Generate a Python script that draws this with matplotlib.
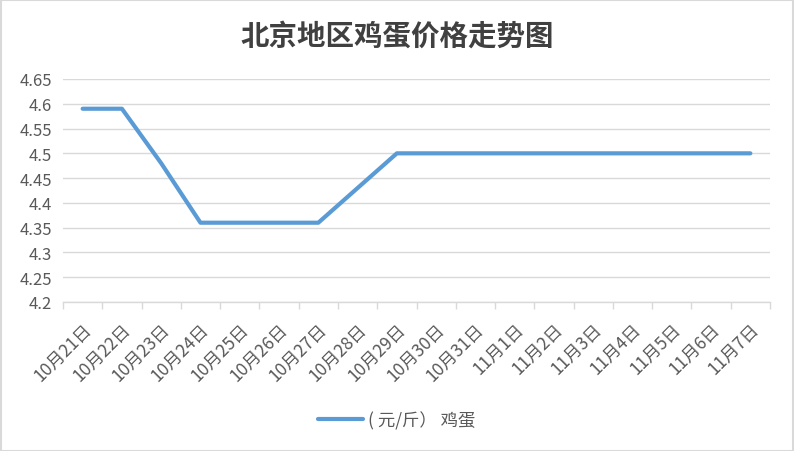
import numpy as np
import matplotlib.pyplot as plt
import matplotlib.transforms as mtransforms
from matplotlib.patches import Rectangle
from matplotlib.ticker import FixedLocator

plt.rcParams['font.family'] = ['Noto Sans CJK SC', 'DejaVu Sans']

dates = ['10月21日', '10月22日', '10月23日', '10月24日', '10月25日', '10月26日',
         '10月27日', '10月28日', '10月29日', '10月30日', '10月31日', '11月1日',
         '11月2日', '11月3日', '11月4日', '11月5日', '11月6日', '11月7日']
prices = [4.59, 4.59, 4.48, 4.36, 4.36, 4.36, 4.36, 4.43, 4.50, 4.50,
          4.50, 4.50, 4.50, 4.50, 4.50, 4.50, 4.50, 4.50]
yticks = [4.2, 4.25, 4.3, 4.35, 4.4, 4.45, 4.5, 4.55, 4.6, 4.65]
ylabels = ['4.2', '4.25', '4.3', '4.35', '4.4', '4.45', '4.5', '4.55', '4.6', '4.65']

fig = plt.figure(figsize=(7.94, 4.52), dpi=100)
ax = fig.add_axes([63 / 794, 1 - 303 / 452, 707 / 794, 223 / 452])

x = np.arange(len(dates))
ax.plot(x, prices, color='#5b9bd5', lw=3, solid_capstyle='round', label='( 元/斤） 鸡蛋', zorder=3)

ax.set_xlim(-0.5, len(dates) - 0.5)
ax.set_ylim(4.2, 4.65)
ax.set_yticks(yticks)
ax.set_yticklabels(ylabels)
ax.grid(axis='y', color='#d9d9d9', lw=1)
ax.set_axisbelow(True)

for s in ['top', 'right', 'left']:
    ax.spines[s].set_visible(False)
ax.spines['bottom'].set_color('#d9d9d9')
ax.spines['bottom'].set_linewidth(1)

ax.set_xticks(x)
ax.set_xticklabels(dates, rotation=45, ha='right', va='center', rotation_mode='anchor', fontsize=12.5, color='#595959')
ax.tick_params(axis='x', which='major', length=0, pad=17)
off = mtransforms.ScaledTranslation(6 / 100, 0, fig.dpi_scale_trans)
for lbl in ax.get_xticklabels():
    lbl.set_transform(lbl.get_transform() + off)
ax.xaxis.set_minor_locator(FixedLocator(np.arange(-0.5, len(dates), 1)))
ax.tick_params(axis='x', which='minor', length=5, color='#d9d9d9', width=1)
ax.tick_params(axis='y', length=0, labelsize=12, labelcolor='#595959', pad=8)

fig.text(0.5, 1 - 37 / 452, '北京地区鸡蛋价格走势图', ha='center', va='center', fontsize=20.5,
         fontweight='bold', color='#404040')

fig.legend(loc='center', bbox_to_anchor=(0.5, 1 - 421 / 452), frameon=False, fontsize=12.5,
           labelcolor='#595959', handlelength=2.6, handletextpad=0.3)

fig.add_artist(Rectangle((0.5 / 794, 0.5 / 452), 1 - 1.5 / 794, 1 - 1.5 / 452, transform=fig.transFigure,
                         fill=False, edgecolor='#d9d9d9', lw=1.5))

fig.savefig('out.png', dpi=100)
